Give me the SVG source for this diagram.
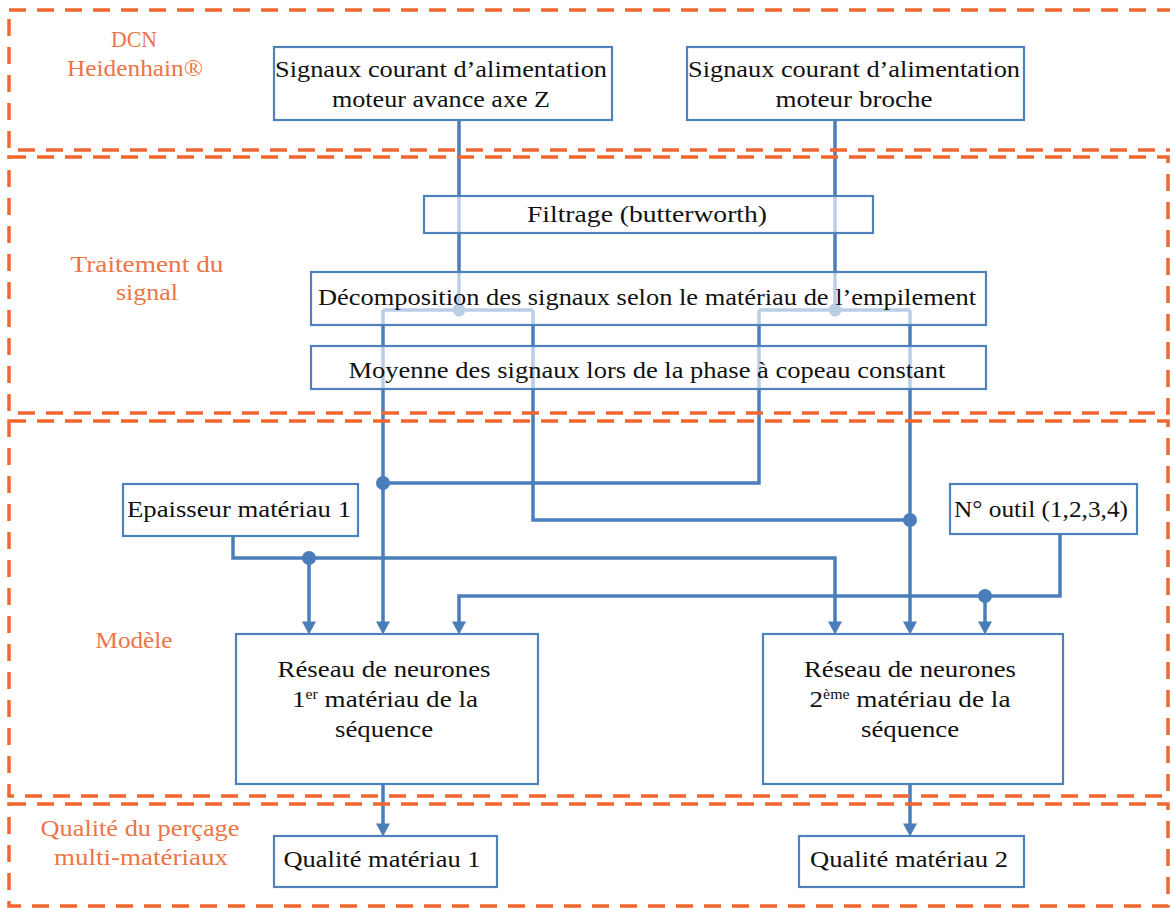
<svg xmlns="http://www.w3.org/2000/svg" width="1170" height="908" viewBox="0 0 1170 908">
<defs>
<marker id="arr" markerUnits="userSpaceOnUse" markerWidth="14" markerHeight="14" viewBox="0 0 12 13" refX="6" refY="6.5" orient="auto">
<path d="M0 0 L12 6.5 L0 13 Z" fill="#4A7EBB"/>
</marker>
<style>
.region{fill:none;stroke:#F0672F;stroke-width:3.5;stroke-dasharray:17 11}
.rlabel{font-family:"Liberation Serif","Times New Roman",serif;font-size:24px;fill:#EC7548;text-anchor:middle}
.node rect{stroke:#4F81BD;stroke-width:2.2;fill:#fff;fill-opacity:0.62}
.node text{font-family:"Liberation Serif","Times New Roman",serif;font-size:24px;fill:#111;text-anchor:middle}
.sup{font-size:14px}
.conn path{fill:none;stroke:#4A7EBB;stroke-width:3.5}
.conn circle{fill:#4A7EBB}
</style>
</defs>
<rect width="1170" height="908" fill="#fff"/>

<g id="connectors" class="conn">
<path d="M459 121 V310"/>
<circle cx="459" cy="310" r="6.5"/>
<path d="M383 310 H533"/>
<path d="M383 310 V628" marker-end="url(#arr)"/>
<path d="M533 310 V520 H910"/>
<path d="M835 121 V310"/>
<circle cx="835" cy="310" r="6.5"/>
<path d="M759 310 H910"/>
<path d="M759 310 V483 H383"/>
<path d="M910 310 V628" marker-end="url(#arr)"/>
<circle cx="383" cy="483" r="7"/>
<circle cx="910" cy="520" r="7"/>
<path d="M233 536 V558 H835 V628" marker-end="url(#arr)"/>
<circle cx="309" cy="558" r="7"/>
<path d="M309 558 V628" marker-end="url(#arr)"/>
<path d="M1060 534 V596 H459 V628" marker-end="url(#arr)"/>
<circle cx="985" cy="596" r="7"/>
<path d="M985 596 V628" marker-end="url(#arr)"/>
<path d="M383 784 V830" marker-end="url(#arr)"/>
<path d="M910 784 V830" marker-end="url(#arr)"/>
</g>

<g id="node-signaux-z" class="node">
<rect x="274" y="47" width="338" height="73"/>
<text x="441" y="77" textLength="332" lengthAdjust="spacingAndGlyphs">Signaux courant d’alimentation</text>
<text x="441" y="107" textLength="218" lengthAdjust="spacingAndGlyphs">moteur avance axe Z</text>
</g>
<g id="node-signaux-broche" class="node">
<rect x="687" y="47" width="337" height="73"/>
<text x="854" y="77" textLength="332" lengthAdjust="spacingAndGlyphs">Signaux courant d’alimentation</text>
<text x="854" y="107" textLength="157" lengthAdjust="spacingAndGlyphs">moteur broche</text>
</g>
<g id="node-filtrage" class="node">
<rect x="424" y="196" width="449" height="37"/>
<text x="647" y="222" textLength="240" lengthAdjust="spacingAndGlyphs">Filtrage (butterworth)</text>
</g>
<g id="node-decomposition" class="node">
<rect x="311" y="272" width="675" height="53"/>
<text x="647" y="305" textLength="658" lengthAdjust="spacingAndGlyphs">Décomposition des signaux selon le matériau de l’empilement</text>
</g>
<g id="node-moyenne" class="node">
<rect x="311" y="346" width="675" height="43"/>
<text x="647" y="378" textLength="597" lengthAdjust="spacingAndGlyphs">Moyenne des signaux lors de la phase à copeau constant</text>
</g>
<g id="node-epaisseur" class="node">
<rect x="123" y="484" width="235" height="52"/>
<text x="239" y="517" textLength="224" lengthAdjust="spacingAndGlyphs">Epaisseur matériau 1</text>
</g>
<g id="node-outil" class="node">
<rect x="950" y="484" width="187" height="50"/>
<text x="1041" y="517" textLength="174" lengthAdjust="spacingAndGlyphs">N° outil (1,2,3,4)</text>
</g>
<g id="node-reseau1" class="node">
<rect x="236" y="634" width="302" height="150"/>
<text x="384" y="677" textLength="213" lengthAdjust="spacingAndGlyphs">Réseau de neurones</text>
<text x="385" y="707" textLength="186" lengthAdjust="spacingAndGlyphs">1<tspan class="sup" dy="-8">er</tspan><tspan dy="8"> matériau de la</tspan></text>
<text x="384" y="737" textLength="98" lengthAdjust="spacingAndGlyphs">séquence</text>
</g>
<g id="node-reseau2" class="node">
<rect x="763" y="634" width="300" height="150"/>
<text x="910" y="677" textLength="212" lengthAdjust="spacingAndGlyphs">Réseau de neurones</text>
<text x="910" y="707" textLength="201" lengthAdjust="spacingAndGlyphs">2<tspan class="sup" dy="-8">ème</tspan><tspan dy="8"> matériau de la</tspan></text>
<text x="910" y="737" textLength="98" lengthAdjust="spacingAndGlyphs">séquence</text>
</g>
<g id="node-qualite1" class="node">
<rect x="274" y="836" width="223" height="51"/>
<text x="382" y="867" textLength="197" lengthAdjust="spacingAndGlyphs">Qualité matériau 1</text>
</g>
<g id="node-qualite2" class="node">
<rect x="799" y="836" width="225" height="51"/>
<text x="909" y="867" textLength="198" lengthAdjust="spacingAndGlyphs">Qualité matériau 2</text>
</g>

<g id="regions">
<rect class="region" x="9" y="10" width="1175" height="140"/>
<rect class="region" x="9" y="157" width="1159" height="256"/>
<rect class="region" x="9" y="421" width="1159" height="375"/>
<rect class="region" x="9" y="804" width="1159" height="102"/>
<text class="rlabel" x="134" y="47" textLength="46" lengthAdjust="spacingAndGlyphs">DCN</text>
<text class="rlabel" x="135" y="76" textLength="136" lengthAdjust="spacingAndGlyphs">Heidenhain®</text>
<text class="rlabel" x="147" y="272" textLength="153" lengthAdjust="spacingAndGlyphs">Traitement du</text>
<text class="rlabel" x="147" y="300" textLength="62" lengthAdjust="spacingAndGlyphs">signal</text>
<text class="rlabel" x="134" y="648" textLength="77" lengthAdjust="spacingAndGlyphs">Modèle</text>
<text class="rlabel" x="140" y="836" textLength="199" lengthAdjust="spacingAndGlyphs">Qualité du perçage</text>
<text class="rlabel" x="141" y="865" textLength="174" lengthAdjust="spacingAndGlyphs">multi-matériaux</text>
</g>
</svg>
